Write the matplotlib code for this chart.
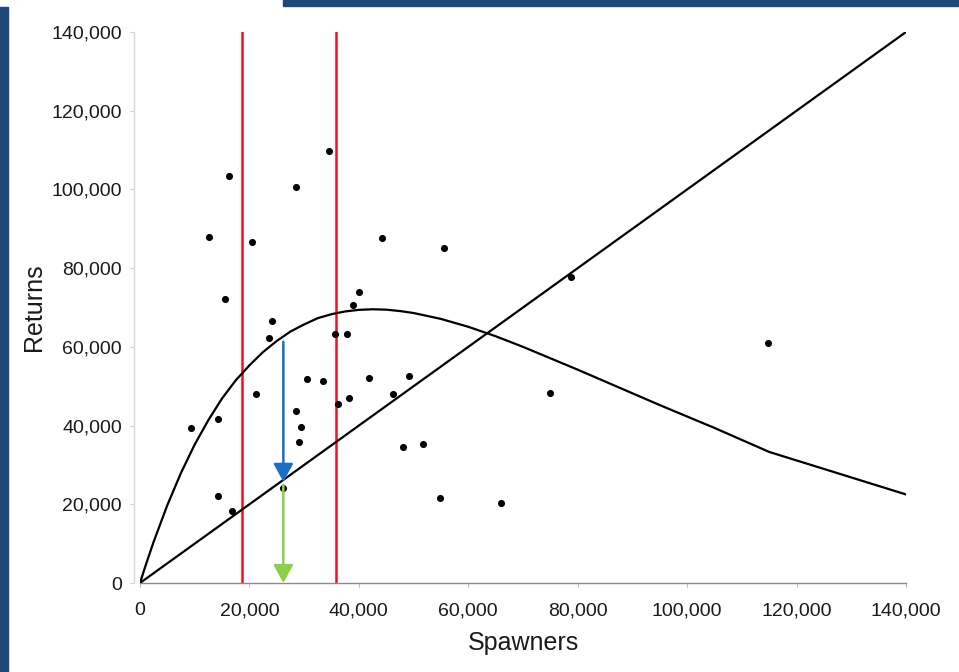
import matplotlib
matplotlib.use("Agg")
import matplotlib.pyplot as plt
from matplotlib.patches import Rectangle
from matplotlib.ticker import FuncFormatter

plt.rcParams['font.family'] = ['Liberation Sans', 'DejaVu Sans']

# observed spawners / returns
spawners = [9300, 12600, 14300, 14300, 15600, 16300, 16900, 20400, 21200, 23500,
            24200, 26200, 28500, 28600, 29100, 29500, 30600, 33400, 34600, 35600,
            36200, 37900, 38200, 38900, 40000, 41900, 44300, 46300, 48100, 49200,
            51800, 54800, 55600, 65900, 74900, 78800, 114800]
returns = [39500, 88000, 41600, 22200, 72200, 103500, 18300, 86600, 47900, 62200,
           66600, 24100, 43600, 100500, 35900, 39700, 51900, 51200, 109700, 63200,
           45500, 63200, 46900, 70700, 73900, 52000, 87700, 47900, 34600, 52600,
           35200, 21600, 85200, 20200, 48400, 77800, 61000]

# fitted recruitment curve
curve_s = [0, 1000, 2500, 5000, 7500, 10000, 12500, 15000, 17500, 20000, 22500, 25000,
           27500, 30000, 32500, 35000, 37500, 40000, 42500, 45000, 47500, 50000, 55000,
           60000, 65000, 70000, 75000, 80000, 85000, 90000, 95000, 100000, 105000,
           115000, 140000]
curve_r = [0, 4350, 10500, 19800, 28000, 35200, 41400, 46900, 51500, 55300, 58700, 61500,
           63900, 65700, 67300, 68300, 69000, 69400, 69550, 69450, 69100, 68600, 67100,
           65100, 62700, 60000, 57100, 54200, 51200, 48200, 45200, 42300, 39400,
           33300, 22500]

# replacement line
repl = [0, 140000]

# escapement goal range
goal_low, goal_high = 18700, 35800

# arrows: from curve to replacement line, then down to axis
arrow_s = 26200
arrow_top = 61300
arrow_mid = 25700
arrow_mid2 = 24900

fig = plt.figure(figsize=(9.59, 6.72), dpi=100)
ax = fig.add_axes([140 / 959, 89 / 672, 766 / 959, 551 / 672])

ax.plot(repl, repl, color='black', lw=1.6, zorder=3)
ax.plot(curve_s, curve_r, color='black', lw=1.6, zorder=3)
ax.scatter(spawners, returns, s=26, color='black', zorder=4, linewidths=0)

for g in (goal_low, goal_high):
    ax.plot([g, g], [0, 140000], color='#f5101e', lw=1.8, zorder=2)

head = '-|>,head_length=0.55,head_width=0.3'
ax.annotate('', xy=(arrow_s, arrow_mid), xytext=(arrow_s, arrow_top),
            arrowprops=dict(arrowstyle=head, mutation_scale=20,
                            color='#1b6ec2', lw=1.8, shrinkA=0, shrinkB=0), zorder=5)
ax.annotate('', xy=(arrow_s, 0), xytext=(arrow_s, arrow_mid2),
            arrowprops=dict(arrowstyle=head, mutation_scale=20,
                            color='#8cd04a', lw=1.8, shrinkA=0, shrinkB=0), zorder=5)

ax.set_xlim(0, 140000)
ax.set_ylim(0, 140000)
ticks = list(range(0, 140001, 20000))
ax.set_xticks(ticks)
ax.set_yticks(ticks)
fmt = FuncFormatter(lambda v, p: '{:,.0f}'.format(v))
ax.xaxis.set_major_formatter(fmt)
ax.yaxis.set_major_formatter(fmt)

for s in ('top', 'right'):
    ax.spines[s].set_visible(False)
ax.spines['bottom'].set_color('#8a8a8a')
ax.spines['bottom'].set_linewidth(1.0)
ax.spines['left'].set_color('#d8d8d8')
ax.spines['left'].set_linewidth(1.0)
ax.spines['left'].set_position(('outward', 4))
ax.tick_params(axis='x', length=3, color='#bbbbbb', pad=11, labelsize=14, labelcolor='#1a1a1a')
ax.tick_params(axis='y', length=3, color='#d0d0d0', pad=6, labelsize=14, labelcolor='#1a1a1a')

ax.set_xlabel('Spawners', fontsize=18, labelpad=8, color='#1a1a1a')
ax.set_ylabel('Returns', fontsize=18, labelpad=4, color='#1a1a1a')

# slide frame bars
fig.patches.append(Rectangle((0, 0), 8 / 959, 665 / 672, transform=fig.transFigure,
                             color='#1f487a', zorder=0))
fig.patches.append(Rectangle((283 / 959, 666 / 672), 1, 6 / 672, transform=fig.transFigure,
                             color='#1f487a', zorder=0))

fig.savefig('out.png', dpi=100)
